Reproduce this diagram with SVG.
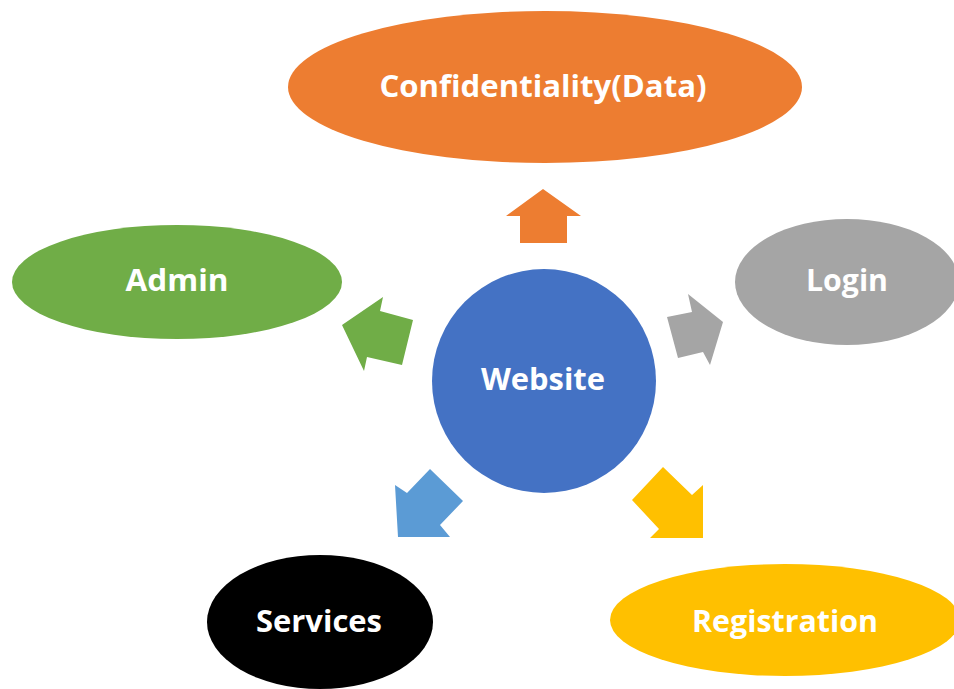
<svg xmlns="http://www.w3.org/2000/svg" width="954" height="689" viewBox="0 0 954 689">
<style>
.lbl{font-family:"Open Sans","Liberation Sans",sans-serif;font-weight:bold;font-size:31px;fill:#FFFFFF;text-anchor:middle}
</style>
<rect width="954" height="689" fill="#FFFFFF"/>
<g id="connectors">
<polygon id="arrow-conf" fill="#ED7D31" points="543,189 581,216 567,216 567,243 520,243 520,216 506,216"/>
<polygon id="arrow-admin" fill="#70AD47" points="342,325 383,297 380,311 413,320 402,365 367,357 364,371"/>
<polygon id="arrow-login" fill="#A5A5A5" points="723,322 688,294 692,312 667,317 678,358 703,352 710,365"/>
<polygon id="arrow-services" fill="#5B9BD5" points="398,537 395,485 407,493 430,469 463,501 440,525 450,537"/>
<polygon id="arrow-registration" fill="#FFC000" points="703,538 703,485 692,495 663,467 632,500 659,529 650,538"/>
</g>
<g id="node-conf">
<ellipse cx="545" cy="87" rx="257" ry="76" fill="#ED7D31"/>
<text class="lbl" x="543" y="97" textLength="327" lengthAdjust="spacingAndGlyphs">Confidentiality(Data)</text>
</g>
<g id="node-admin">
<ellipse cx="177" cy="282" rx="165" ry="57" fill="#70AD47"/>
<text class="lbl" x="177" y="291" textLength="103" lengthAdjust="spacingAndGlyphs">Admin</text>
</g>
<g id="node-login">
<ellipse cx="847" cy="282" rx="112" ry="63" fill="#A5A5A5"/>
<text class="lbl" x="847" y="291" textLength="82" lengthAdjust="spacingAndGlyphs">Login</text>
</g>
<g id="node-website">
<circle cx="544" cy="381" r="112" fill="#4472C4"/>
<text class="lbl" x="543" y="390" textLength="124" lengthAdjust="spacingAndGlyphs">Website</text>
</g>
<g id="node-services">
<ellipse cx="320" cy="622" rx="113" ry="67" fill="#000000"/>
<text class="lbl" x="319" y="632" textLength="126" lengthAdjust="spacingAndGlyphs">Services</text>
</g>
<g id="node-registration">
<ellipse cx="785" cy="620" rx="175" ry="56" fill="#FFC000"/>
<text class="lbl" x="785" y="632" textLength="186" lengthAdjust="spacingAndGlyphs">Registration</text>
</g>
</svg>
